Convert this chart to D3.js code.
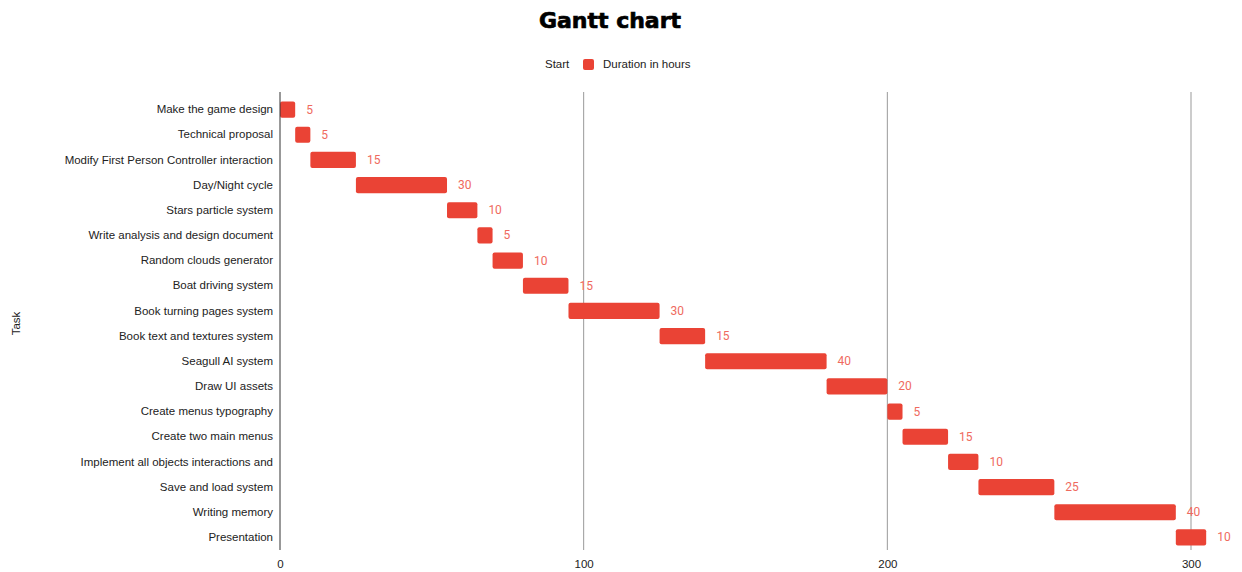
<!DOCTYPE html>
<head>
    <meta charset="utf-8">
    <title>Gantt chart</title>
    <style>
        body { margin: 0; background: #fff; }
        svg text { font-family: "Liberation Sans", Arial, sans-serif; }
    </style>
</head>
<body>
    <div id="chart"></div>
    <script src="https://d3js.org/d3.v7.min.js"></script>
    <script>
        var tasks = ["Make the game design", "Technical proposal", "Modify First Person Controller interaction",
            "Day/Night cycle", "Stars particle system", "Write analysis and design document",
            "Random clouds generator", "Boat driving system", "Book turning pages system",
            "Book text and textures system", "Seagull AI system", "Draw UI assets",
            "Create menus typography", "Create two main menus", "Implement all objects interactions and",
            "Save and load system", "Writing memory", "Presentation"];
        var starts = [0, 5, 10, 25, 55, 65, 70, 80, 95, 125, 140, 180, 200, 205, 220, 230, 255, 295];
        var durations = [5, 5, 15, 30, 10, 5, 10, 15, 30, 15, 40, 20, 5, 15, 10, 25, 40, 10];
        var xTicks = [0, 100, 200, 300];

        var W = 1242, H = 572;
        var margin = {top: 97, right: 51, bottom: 22, left: 280};
        var width = W - margin.left - margin.right,
            height = H - margin.top - margin.bottom;

        var data = tasks.map(function(t, i) { return {task: t, start: starts[i], dur: durations[i]}; });

        var x = d3.scaleLinear().domain([0, 300]).range([0, 911]);
        var y = d3.scaleBand().domain(tasks).range([0, height]).paddingInner(0.36).paddingOuter(0.18);

        var svg = d3.select("#chart").append("svg")
            .attr("width", W).attr("height", H);

        svg.append("text")
            .attr("x", 610).attr("y", 28)
            .attr("text-anchor", "middle")
            .style("font-family", "'Arial Black', 'DejaVu Sans', sans-serif")
            .style("font-weight", "900")
            .style("font-size", "22px")
            .attr("stroke", "#000").attr("stroke-width", 0.7)
            .text("Gantt chart");

        // legend
        var lg = svg.append("g").attr("transform", "translate(0,64)");
        lg.append("text").attr("x", 545).attr("y", 4).style("font-size", "11.5px").attr("fill", "#222").text("Start");
        lg.append("rect").attr("x", 583).attr("y", -5).attr("width", 11).attr("height", 11).attr("rx", 2).attr("fill", "#ea4335");
        lg.append("text").attr("x", 603).attr("y", 4).style("font-size", "11.5px").attr("fill", "#222").text("Duration in hours");

        svg.append("text")
            .attr("transform", "translate(20," + (margin.top + height / 2) + ") rotate(-90)")
            .attr("text-anchor", "middle")
            .style("font-size", "11.5px").attr("fill", "#222")
            .text("Task");

        var g = svg.append("g").attr("transform", "translate(" + margin.left + "," + margin.top + ")");

        // grid
        g.selectAll(".grid").data(xTicks.slice(1)).enter().append("line")
            .attr("x1", function(d) { return x(d); }).attr("x2", function(d) { return x(d); })
            .attr("y1", -5).attr("y2", height)
            .attr("stroke", "#999").attr("stroke-width", 1);

        // bars
        g.selectAll(".bar").data(data).enter().append("rect")
            .attr("x", function(d) { return x(d.start); })
            .attr("y", function(d) { return y(d.task); })
            .attr("width", function(d) { return x(d.start + d.dur) - x(d.start); })
            .attr("height", y.bandwidth())
            .attr("rx", 2)
            .attr("fill", "#ea4335");

        g.selectAll(".val").data(data).enter().append("text")
            .attr("x", function(d) { return x(d.start + d.dur) + 11; })
            .attr("y", function(d) { return y(d.task) + y.bandwidth() / 2 + 4; })
            .style("font-family", "Roboto, sans-serif")
            .style("font-size", "12px")
            .attr("fill", "#ef6a5e")
            .text(function(d) { return d.dur; });

        // baseline
        g.append("line").attr("x1", 0).attr("x2", 0).attr("y1", -5).attr("y2", height)
            .attr("stroke", "#333").attr("stroke-width", 1);

        // y axis labels
        var yAxis = g.append("g")
            .call(d3.axisLeft(y).tickSize(0).tickPadding(7));
        yAxis.select(".domain").remove();
        yAxis.selectAll("text").style("font-size", "11.5px").attr("fill", "#222")
            .style("font-family", "'Liberation Sans', Arial, sans-serif");

        var xAxis = g.append("g").attr("transform", "translate(0," + height + ")")
            .call(d3.axisBottom(x).tickValues(xTicks).tickSize(0).tickPadding(10));
        xAxis.select(".domain").remove();
        xAxis.selectAll("text").style("font-size", "11.5px").attr("fill", "#222")
            .style("font-family", "'Liberation Sans', Arial, sans-serif");
    </script>
</body>
</html>
